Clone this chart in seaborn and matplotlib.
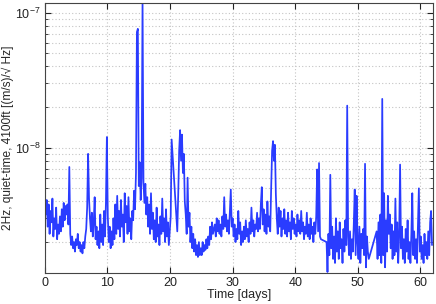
import numpy as np
import pandas as pd
import seaborn as sns
import matplotlib
matplotlib.use("Agg")
import matplotlib.pyplot as plt
from matplotlib.ticker import LogLocator

# sample step in days, and segment start days (data gaps between segments)
step = 0.15
seg_starts = [0.0, 21.15, 45.0, 53.0]

# amplitude spectral density, units of 1e-9 (m/s)/sqrt(Hz)
seg1 = [4.6, 3.2, 4.1, 2.6, 3.8, 2.3, 3.4, 2.8, 4.2, 2.2,
        3.0, 2.5, 3.6, 2.1, 2.7, 2.3, 3.1, 2.4, 3.5, 2.6,
        3.9, 2.9, 3.7, 3.2, 3.8, 2.7, 7.2, 2.3, 1.9, 2.2,
        1.8, 2.0, 1.7, 2.1, 1.9, 2.3, 1.8, 2.0, 1.7, 1.9,
        1.65, 2.0, 1.8, 2.2, 2.5, 3.6, 9.0, 4.2, 3.0, 2.4,
        3.3, 2.2, 2.8, 4.3, 2.1, 2.6, 1.9, 2.4, 1.8, 3.2,
        2.0, 2.7, 1.9, 3.4, 2.2, 3.9, 12.0, 3.1, 2.0, 2.6,
        1.8, 2.4, 1.9, 3.0, 2.1, 3.8, 2.3, 4.4, 2.5, 3.4,
        2.2, 4.1, 2.6, 3.2, 2.0, 4.6, 2.8, 3.7, 2.3, 4.3,
        2.4, 3.0, 2.1, 3.4, 2.9, 4.8, 3.5, 6.5, 72.0, 76.0,
        5.2, 7.8, 4.1, 6.0, 125.0, 5.5, 3.9, 5.4, 3.2, 4.3,
        2.6, 3.8, 2.3, 4.6, 2.5, 3.3, 2.1, 2.9, 2.0, 3.6,
        2.2, 2.7, 1.9, 3.1, 2.3, 4.2, 2.4, 3.0, 2.0, 3.5,
        2.2, 2.8, 1.9, 2.4, 3.1, 11.5]
seg2 = [2.4, 4.5, 9.5, 13.5, 8.0, 12.5, 6.5, 9.0, 4.0, 3.2,
        2.3, 6.0, 2.6, 3.3, 2.0, 2.6, 1.8, 2.3, 1.7, 2.1,
        1.6, 1.9, 1.55, 2.0, 1.6, 1.8, 1.6, 2.0, 1.7, 1.9,
        1.75, 2.1, 1.8, 2.2, 1.9, 2.6, 2.1, 2.8, 2.3, 2.5,
        2.7, 2.2, 3.0, 2.4, 2.9, 2.3, 2.7, 2.2, 3.1, 2.5,
        4.3, 2.6, 3.2, 2.4, 2.9, 2.3, 3.3, 4.9, 2.6, 3.0,
        2.2, 2.7, 2.0, 2.5, 2.1, 3.4, 2.3, 2.8, 1.9, 2.4,
        2.0, 2.6, 2.1, 2.9, 2.2, 2.5, 2.0, 2.8, 2.3, 3.6,
        2.4, 2.9, 2.2, 2.7, 2.5, 3.3, 2.4, 3.0, 2.5, 3.8,
        5.1, 2.7, 3.5, 2.4, 3.2, 2.3, 4.0, 2.6, 3.1, 2.4,
        5.0, 9.5, 11.2, 8.0, 10.5, 4.5, 3.0, 2.3, 3.6, 2.6,
        3.4, 2.2, 3.0, 2.5, 3.5, 2.3, 2.9, 2.2, 3.3, 2.4,
        2.8, 2.1, 3.4, 2.5, 3.0, 2.3, 2.7, 2.2, 3.2, 2.4,
        2.9, 2.3, 3.4, 2.4, 2.8, 2.1, 2.6, 2.3, 3.3, 2.2,
        2.7, 2.1, 3.0, 2.3, 2.6, 2.0, 2.8, 2.3, 3.1, 6.9,
        2.4, 7.7, 2.2, 2.1]
seg3 = [2.0, 1.2, 2.3, 1.6, 6.3, 1.8, 2.6, 1.5, 2.2, 1.4,
        3.0, 1.7, 2.4, 1.5, 2.8, 1.8, 2.1, 1.4, 2.5, 1.7,
        2.9, 1.9, 20.5, 2.2, 1.6, 2.4, 1.5, 2.1, 1.7, 2.7,
        4.9, 1.6, 4.4, 2.0, 1.5, 2.6, 1.4, 2.3, 1.8, 2.5,
        1.6, 7.6, 1.3, 2.2, 1.7, 1.5]
seg4 = [2.4, 1.5, 2.8, 1.6, 3.2, 1.4, 23.0, 1.6, 4.6, 1.3,
        2.9, 1.7, 4.4, 2.3, 3.2, 1.8, 2.7, 1.5, 2.4, 1.6,
        4.2, 1.7, 2.8, 1.4, 2.2, 7.5, 1.8, 2.6, 1.5, 2.1,
        1.4, 2.5, 1.7, 2.9, 1.5, 2.0, 1.4, 2.3, 4.6, 1.6,
        2.4, 1.5, 2.1, 1.4, 2.6, 5.0, 1.7, 2.2, 1.5, 1.9,
        1.4, 2.3, 1.6, 2.0, 1.5, 2.4, 1.6, 2.8, 3.4, 1.9]

days, asd = [], []
for t0, vals in zip(seg_starts, [seg1, seg2, seg3, seg4]):
    days.extend(t0 + step * np.arange(len(vals)))
    asd.extend(vals)
df = pd.DataFrame({"day": days, "asd": np.array(asd) * 1e-9})

sns.set_style("ticks")
plt.rcParams["font.family"] = ["Liberation Sans", "DejaVu Sans"]
plt.rcParams["mathtext.fontset"] = "custom"
plt.rcParams["mathtext.rm"] = "Liberation Sans"

fig = plt.figure(figsize=(4.36, 3.04), dpi=100)
ax = fig.add_axes([0.103, 0.102, 0.89, 0.888])

sns.lineplot(data=df, x="day", y="asd", estimator=None, sort=False,
             color="#2a3cff", linewidth=1.25, ax=ax)

ax.set_yscale("log")
ax.set_xlim(0, 62)
ax.set_ylim(1.18e-9, 1.18e-7)
ax.set_xticks([0, 10, 20, 30, 40, 50, 60])
ax.yaxis.set_minor_locator(LogLocator(base=10, subs=np.arange(2, 10)))

ax.grid(True, which="major", color="#c4c4c4", linestyle=(0, (1, 2)), linewidth=0.8)
ax.grid(True, which="minor", axis="y", color="#c4c4c4", linestyle=(0, (1, 2)), linewidth=0.8)

ax.tick_params(which="both", direction="in", top=True, right=True,
               labelsize=9, colors="#222222")
ax.tick_params(which="major", length=4, pad=3)
ax.tick_params(which="minor", length=2)
for s in ax.spines.values():
    s.set_color("#444444")
    s.set_linewidth(0.8)

ax.set_xlabel("Time [days]", fontsize=9, labelpad=0)
ax.set_ylabel("2Hz, quiet-time, 4100ft [(m/s)/\u221a Hz]", fontsize=8.6)
ax.yaxis.set_label_coords(-0.08, 0.5)

fig.savefig("out.png", dpi=100)
